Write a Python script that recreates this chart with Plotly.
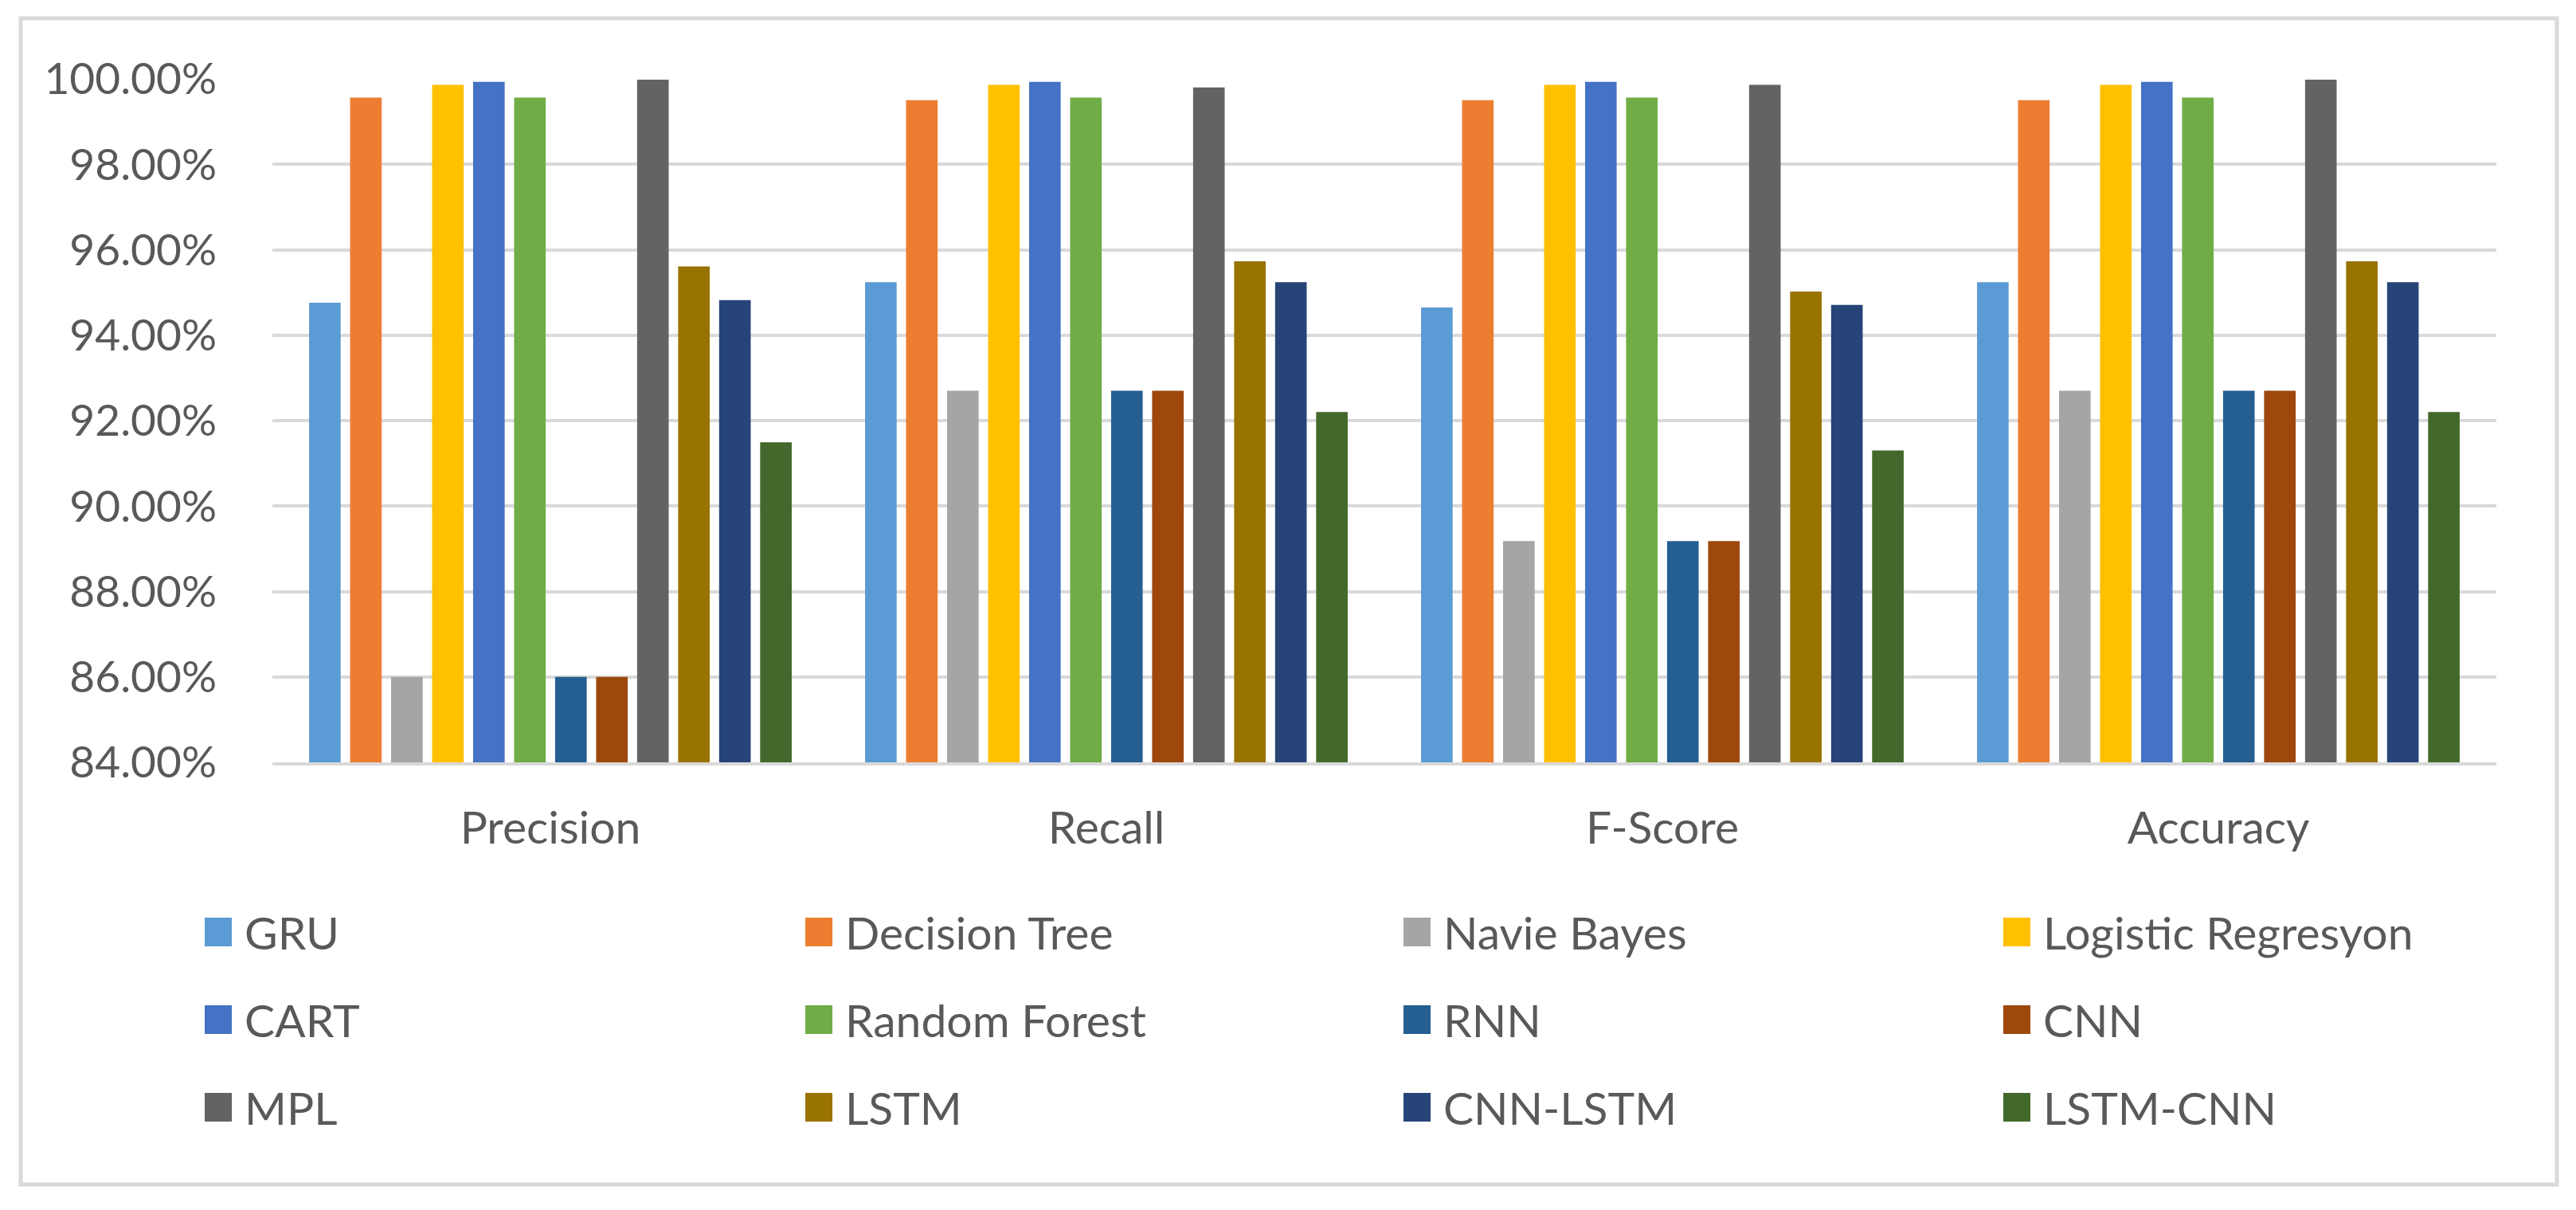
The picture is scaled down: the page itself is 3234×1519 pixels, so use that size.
import plotly.graph_objects as go

# ---------------- data ----------------
categories = ["Precision", "Recall", "F-Score", "Accuracy"]

models = ["GRU", "Decision Tree", "Navie Bayes", "Logistic Regresyon",
          "CART", "Random Forest", "RNN", "CNN",
          "MPL", "LSTM", "CNN-LSTM", "LSTM-CNN"]

gru = [94.76, 95.24, 94.65, 95.24]
decision_tree = [99.56, 99.50, 99.50, 99.50]
navie_bayes = [86.00, 92.70, 89.18, 92.70]
logistic_regresyon = [99.86, 99.86, 99.86, 99.86]
cart = [99.93, 99.93, 99.93, 99.93]
random_forest = [99.56, 99.56, 99.56, 99.56]
rnn = [86.00, 92.70, 89.18, 92.70]
cnn = [86.00, 92.70, 89.18, 92.70]
mpl = [99.98, 99.80, 99.86, 99.98]
lstm = [95.61, 95.73, 95.02, 95.73]
cnn_lstm = [94.82, 95.24, 94.71, 95.24]
lstm_cnn = [91.49, 92.20, 91.30, 92.20]

series_values = [gru, decision_tree, navie_bayes, logistic_regresyon,
                 cart, random_forest, rnn, cnn,
                 mpl, lstm, cnn_lstm, lstm_cnn]

colors = ["#5B9BD5", "#ED7D31", "#A5A5A5", "#FFC000",
          "#4472C4", "#70AD47", "#255E91", "#9E480E",
          "#636363", "#997300", "#264478", "#43682B"]

y_min, y_max, y_step = 84, 100, 2

# ---------------- layout constants (pixels) ----------------
W, H = 3226, 1503
ML, MR, MT, MB = 334, 100, 91, 554
PW, PH = W - ML - MR, H - MT - MB
TEXT = "#595959"
GRID = "#D9D9D9"
FONT = "Lato"


def px_x(x):
    return (x - ML) / PW


def px_y(y):
    return (H - MB - y) / PH


fig = go.Figure()
for name, vals, col in zip(models, series_values, colors):
    fig.add_trace(go.Bar(name=name, x=categories, y=vals,
                         marker=dict(color=col, line=dict(width=0)),
                         showlegend=False))

fig.update_layout(
    width=W, height=H,
    margin=dict(l=ML, r=MR, t=MT, b=MB, pad=0),
    paper_bgcolor="white", plot_bgcolor="white",
    barmode="group", bargap=0.115, bargroupgap=0.23,
    font=dict(family=FONT, size=57, color=TEXT),
)
fig.update_yaxes(range=[y_min, y_max], dtick=y_step, tick0=y_min,
                 tickformat=".2f", ticksuffix="%",
                 showgrid=True, gridcolor=GRID, gridwidth=4,
                 zeroline=False, showline=False,
                 ticks="outside", ticklen=58, tickcolor="rgba(0,0,0,0)",
                 tickfont=dict(family=FONT, size=55, color=TEXT))
fig.update_xaxes(showgrid=False, showline=True, linecolor=GRID, linewidth=4,
                 ticks="outside", ticklen=30, tickcolor="rgba(0,0,0,0)",
                 tickfont=dict(family=FONT, size=57, color=TEXT))

# outer chart border
fig.add_shape(type="rect", xref="paper", yref="paper",
              x0=px_x(18), x1=px_x(3202), y0=px_y(1479), y1=px_y(15),
              line=dict(color=GRID, width=5), fillcolor="rgba(0,0,0,0)",
              layer="below")

# legend (3 rows x 4 columns) built from the series names and colours
col_left = [249, 1003, 1754, 2507]
row_mid = [1162, 1272, 1382]
sw, sh = 34, 36
for i, (name, col) in enumerate(zip(models, colors)):
    r, c = divmod(i, 4)
    xl = col_left[c]
    ym = row_mid[r]
    fig.add_shape(type="rect", xref="paper", yref="paper",
                  x0=px_x(xl), x1=px_x(xl + sw),
                  y0=px_y(ym + sh / 2), y1=px_y(ym - sh / 2),
                  line=dict(width=0), fillcolor=col)
    fig.add_annotation(xref="paper", yref="paper",
                       x=px_x(xl + sw + 14), y=px_y(ym),
                       xanchor="left", yanchor="middle", showarrow=False,
                       text=name, font=dict(family=FONT, size=57, color=TEXT))

fig.write_html("out.html")
